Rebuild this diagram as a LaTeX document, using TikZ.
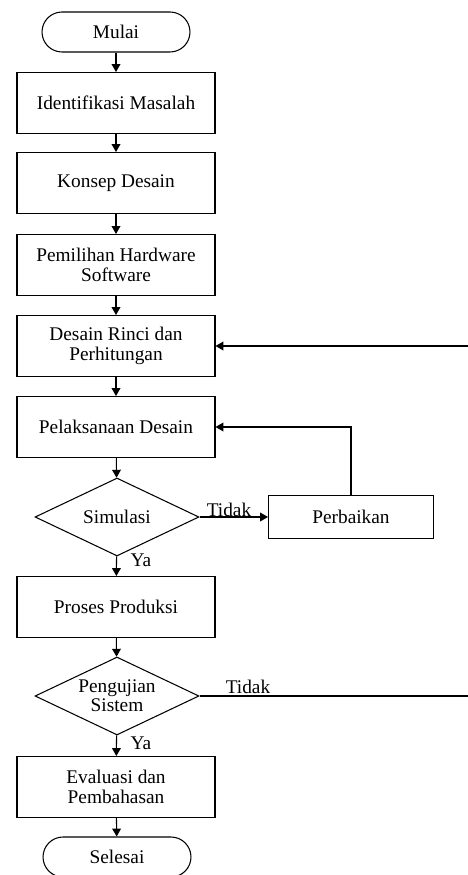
\documentclass[tikz,border=0pt]{standalone}
\usepackage{fontspec}
\setmainfont{Liberation Serif}
\usetikzlibrary{shapes.geometric,arrows.meta}

\begin{document}
\begin{tikzpicture}[x=0.02cm, y=-0.02cm,
    font=\fontsize{11}{11}\selectfont,
    line width=0.6pt,
    >={Triangle[length=4.5pt,width=5pt]},
    terminal/.style={draw, rectangle, rounded corners=0.4cm, minimum width=2.96cm, minimum height=0.8cm},
    proses/.style={draw, rectangle, minimum width=3.96cm, minimum height=1.22cm, align=center},
    keputusan/.style={draw, diamond, aspect=2.1, inner sep=0pt, minimum width=3.28cm, minimum height=1.56cm, align=center},
    ket/.style={inner sep=0pt}]
    \useasboundingbox (0,0) rectangle (467,875);

    \node[terminal] (mulai) at (116,32) {Mulai};
    \node[proses] (identifikasi) at (116,103) {Identifikasi Masalah};
    \node[proses] (konsep) at (116,183) {Konsep Desain};
    \node[proses] (pemilihan) at (116,265) {Pemilihan Hardware\\Software};
    \node[proses] (rinci) at (116,346) {Desain Rinci dan\\Perhitungan};
    \node[proses] (pelaksanaan) at (116,427) {Pelaksanaan Desain};
    \node[keputusan] (simulasi) at (117,517) {Simulasi};
    \node[proses, minimum width=3.3cm, minimum height=0.86cm] (perbaikan) at (351,517) {Perbaikan};
    \node[proses] (produksi) at (116,607) {Proses Produksi};
    \node[keputusan] (pengujian) at (117,696) {Pengujian\\Sistem};
    \node[proses] (evaluasi) at (116,787) {Evaluasi dan\\Pembahasan};
    \node[terminal] (selesai) at (117,857) {Selesai};

    % label
    \node[ket] (tidak1) at (229,510) {Tidak};
    \node[ket] (ya1) at (141,560) {Ya};
    \node[ket] (tidak2) at (248,687) {Tidak};
    \node[ket] (ya2) at (141,743) {Ya};

    \coordinate (kanan1) at (472,696);
    \coordinate (kanan2) at (472,346);

    % alur utama
    \draw[->] (mulai) -- (identifikasi);
    \draw[->] (identifikasi) -- (konsep);
    \draw[->] (konsep) -- (pemilihan);
    \draw[->] (pemilihan) -- (rinci);
    \draw[->] (rinci) -- (pelaksanaan);
    \draw[->] (pelaksanaan) -- (simulasi);
    \draw[->] (simulasi) -- (produksi);
    \draw[->] (produksi) -- (pengujian);
    \draw[->] (pengujian) -- (evaluasi);
    \draw[->] (evaluasi) -- (selesai);

    % umpan balik
    \draw[->] (simulasi.east) -- (perbaikan.west);
    \draw[->] (perbaikan.north) |- (pelaksanaan.east);
    \draw[->] (pengujian.east) -- (kanan1) -- (kanan2) -- (rinci.east);
\end{tikzpicture}
\end{document}
